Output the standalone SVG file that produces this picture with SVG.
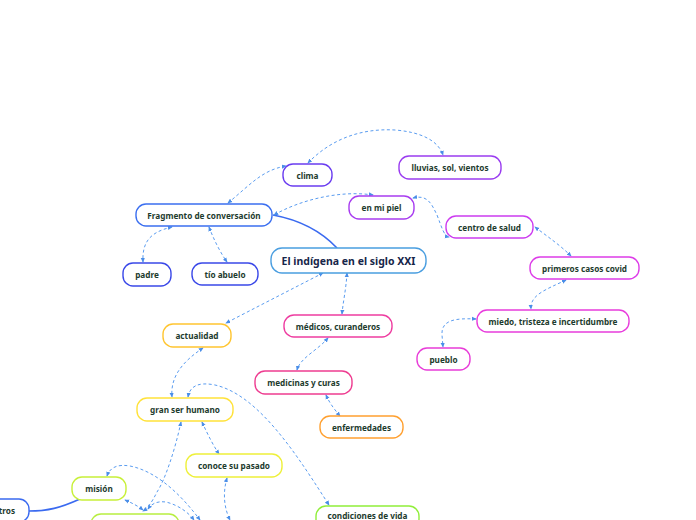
<svg xmlns="http://www.w3.org/2000/svg" width="696" height="520" viewBox="0 0 696 520">
<style>
.n rect{fill:#fff;stroke-width:1.4}
.n text{font-family:"Noto Sans","Open Sans","Liberation Sans",sans-serif;font-weight:bold;font-size:8.2px;fill:#1d3b2e;text-anchor:middle;dominant-baseline:central}
#title rect{stroke:#4a9ee0}
#title text{font-size:10.5px;fill:#17264a}
.d{fill:none;stroke:#5a9cf0;stroke-width:1;stroke-dasharray:3 2.5;marker-start:url(#a);marker-end:url(#a)}
.s{fill:none;stroke:#3a6af0;stroke-width:1.6}
</style>
<defs>
<marker id="a" viewBox="0 0 6 6" refX="5" refY="3" markerWidth="5" markerHeight="5" markerUnits="userSpaceOnUse" orient="auto-start-reverse">
<path d="M0,0.5 L6,3 L0,5.5 Z" fill="#4a8ee8"/>
</marker>
</defs>
<rect width="696" height="520" fill="#fff"/>
<g id="connectors">
<path class="s" d="M337,248 C320,230 300,220 273,215"/>
<path class="s" d="M80,499 C60,508 48,511 29,511"/>
<path class="d" d="M228,203 C250,185 262,170 286,166"/>
<path class="d" d="M172,227 C150,232 142,242 143,262"/>
<path class="d" d="M209,227 C214,240 220,252 227,262"/>
<path class="d" d="M308,163 C330,140 360,128 395,130 C420,132 438,140 443,155"/>
<path class="d" d="M373,195 C340,190 300,200 274,215"/>
<path class="d" d="M413,198 C428,194 432,205 437,215 C442,228 444,236 449,237"/>
<path class="d" d="M535,227 C548,237 560,245 571,256"/>
<path class="d" d="M566,280 C545,290 530,295 531,309"/>
<path class="d" d="M476,319 C455,318 441,320 442,335 L443,347"/>
<path class="d" d="M323,273 C290,290 255,308 226,323" marker-start="none"/>
<path class="d" d="M347,273 C346,290 343,302 342,314" marker-start="none" marker-end="none"/>
<path class="d" d="M328,338 C318,350 300,358 297,370"/>
<path class="d" d="M326,395 C330,404 335,410 340,416"/>
<path class="d" d="M203,348 C185,360 170,375 172,397"/>
<path class="d" d="M188,397 C190,385 200,382 215,385 C260,395 300,460 329,505"/>
<path class="d" d="M202,422 C208,435 213,445 219,454"/>
<path class="d" d="M181,422 C175,450 165,480 157,492 C152,502 148,508 143,511"/>
<path class="d" d="M227,478 C222,495 225,510 230,520" marker-end="none"/>
<path class="d" d="M107,476 C110,467 118,464 130,466 C160,472 185,500 200,520" marker-end="none"/>
<path class="d" d="M125,500 C132,503 138,506 143,510" marker-start="none" marker-end="none"/>
<path class="d" d="M148,509 C152,503 158,501 166,502 C178,505 188,512 194,520" marker-start="none" marker-end="none"/>
</g>
<g id="title" class="n"><rect x="271" y="248" width="155" height="25" rx="11"/><text x="348.5" y="260.5">El indígena en el siglo XXI</text></g>
<g id="fragmento" class="n"><rect x="136" y="204" width="136" height="22" rx="10" style="stroke:#3b6ff0"/><text x="204" y="215">Fragmento de conversación</text></g>
<g id="padre" class="n"><rect x="123" y="263" width="48" height="23" rx="10" style="stroke:#3a48e8"/><text x="147" y="274.5">padre</text></g>
<g id="tio" class="n"><rect x="192" y="263" width="66" height="22" rx="10" style="stroke:#3a48e8"/><text x="225" y="274">tío abuelo</text></g>
<g id="clima" class="n"><rect x="283" y="164" width="49" height="22" rx="10" style="stroke:#6a3cf0"/><text x="307.5" y="175">clima</text></g>
<g id="lluvias" class="n"><rect x="399" y="156" width="102" height="23" rx="10" style="stroke:#9a3cf0"/><text x="450" y="167.5">lluvias, sol, vientos</text></g>
<g id="piel" class="n"><rect x="349" y="196" width="65" height="23" rx="10" style="stroke:#a83cf0"/><text x="381.5" y="207.5">en mi piel</text></g>
<g id="centro" class="n"><rect x="446" y="216" width="87" height="22" rx="10" style="stroke:#cc3cf0"/><text x="489.5" y="227">centro de salud</text></g>
<g id="primeros" class="n"><rect x="530" y="257" width="109" height="22" rx="10" style="stroke:#dd3ce8"/><text x="584.5" y="268">primeros casos covid</text></g>
<g id="miedo" class="n"><rect x="477" y="310" width="152" height="22" rx="10" style="stroke:#e83cdc"/><text x="553" y="321">miedo, tristeza e incertidumbre</text></g>
<g id="pueblo" class="n"><rect x="417" y="348" width="53" height="22" rx="10" style="stroke:#e83cd8"/><text x="443.5" y="359">pueblo</text></g>
<g id="medicos" class="n"><rect x="284" y="315" width="108" height="22" rx="10" style="stroke:#ee3ca0"/><text x="338" y="326">médicos, curanderos</text></g>
<g id="medicinas" class="n"><rect x="255" y="371" width="97" height="23" rx="10" style="stroke:#ee3c90"/><text x="303.5" y="382.5">medicinas y curas</text></g>
<g id="enfermedades" class="n"><rect x="320" y="416" width="83" height="22" rx="10" style="stroke:#ffa030"/><text x="361.5" y="427">enfermedades</text></g>
<g id="actualidad" class="n"><rect x="163" y="324" width="68" height="23" rx="10" style="stroke:#ffc530"/><text x="197" y="335.5">actualidad</text></g>
<g id="gran" class="n"><rect x="137" y="398" width="96" height="23" rx="10" style="stroke:#ffe23a"/><text x="185" y="409.5">gran ser humano</text></g>
<g id="conoce" class="n"><rect x="186" y="454" width="96" height="23" rx="10" style="stroke:#eef03a"/><text x="234" y="465.5">conoce su pasado</text></g>
<g id="mision" class="n"><rect x="72" y="477" width="54" height="23" rx="10" style="stroke:#c8f03a"/><text x="99" y="488.5">misión</text></g>
<g id="condiciones" class="n"><rect x="316" y="506" width="103" height="23" rx="10" style="stroke:#90ee3a"/><text x="367.5" y="515.5">condiciones de vida</text></g>
<g id="bajo-mision" class="n"><rect x="91" y="514" width="88" height="23" rx="10" style="stroke:#b8ee40"/></g>
<g id="nosotros" class="n"><rect x="-40" y="499" width="69" height="23" rx="10" style="stroke:#3a6af0"/><text x="15" y="510.5" style="text-anchor:end">tros</text></g>
</svg>
